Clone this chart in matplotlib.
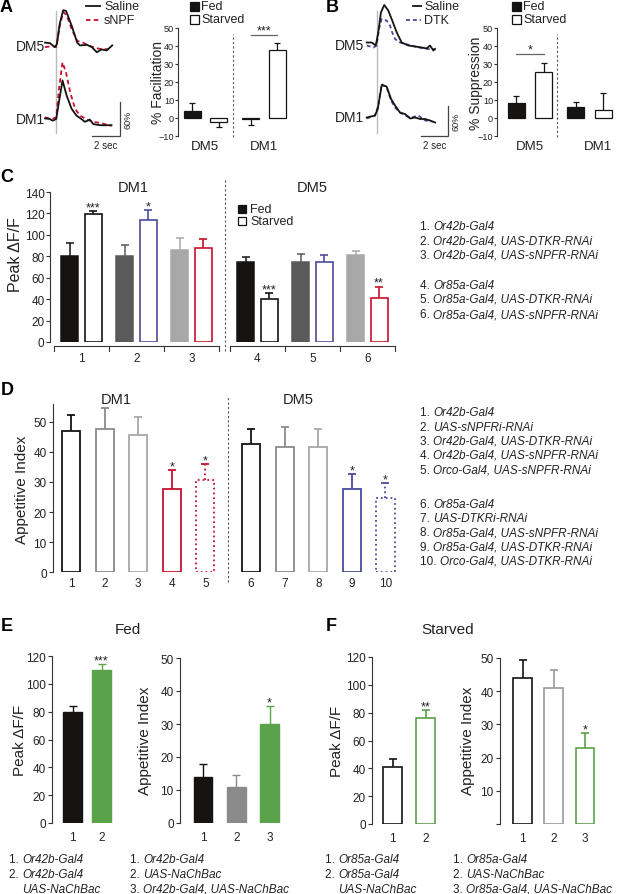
import matplotlib
matplotlib.use('Agg')
import matplotlib.pyplot as plt
from matplotlib.lines import Line2D
from matplotlib.patches import Rectangle

plt.rcParams['font.family'] = ['Liberation Sans', 'DejaVu Sans']

# ======================= DATA =======================
# Panel A traces (time in s, dF/F in %)
A_dm5_saline_t = [0, 0.35, 0.7, 0.85, 1.05, 1.3, 1.5, 1.9, 2.3, 2.5, 3.0, 3.35, 3.7, 4.05, 4.4, 4.8]
A_dm5_saline_v = [6, 5, -2, 3, 39, 63, 62, 36, 6, 1, 2, -2, -11, -6, -8, 1]
A_dm5_snpf_t = [0, 0.55, 0.8, 1.05, 1.3, 1.55, 1.9, 2.3, 2.7, 3.2, 3.7, 4.15, 4.65]
A_dm5_snpf_v = [-2, 0, -2, 35, 60, 54, 30, 9, 6, 0, -4, -6, -5]
A_dm1_saline_t = [0, 0.35, 0.55, 0.8, 0.95, 1.25, 1.55, 1.9, 2.25, 2.6, 2.85, 3.2, 3.45, 3.95, 4.4, 4.75]
A_dm1_saline_v = [1, 0, -3, 0, 23, 68, 41, 18, 6, 0, -5, -1, -9, -11, -11, -11]
A_dm1_snpf_t = [0, 0.5, 0.8, 1.0, 1.25, 1.5, 1.8, 2.15, 2.5, 3.0, 3.45, 3.95, 4.75]
A_dm1_snpf_v = [3, 0, 3, 53, 100, 82, 47, 18, 6, -1, -5, -7, -12]

# Panel B traces
B_dm5_saline_t = [0, 0.38, 0.68, 0.87, 1.07, 1.32, 1.62, 1.92, 2.26, 2.63, 3.13, 3.63, 4.14, 4.51, 4.76, 5.01, 5.14]
B_dm5_saline_v = [5, 5, -1, 25, 65, 80, 69, 49, 25, 5, -1, -3, -5, -7, -1, -11, -8]
B_dm5_dtk_t = [0, 0.5, 0.75, 0.92, 1.13, 1.5, 1.75, 1.92, 2.13, 2.5, 2.88, 3.38, 3.88, 4.39, 4.89, 5.14]
B_dm5_dtk_v = [-1, -5, -1, 32, 52, 49, 39, 25, 12, 5, 2, -1, -5, -7, -9, -8]
B_dm1_saline_t = [0, 0.62, 0.83, 1.13, 1.5, 1.83, 2.13, 2.5, 2.88, 3.26, 3.63, 4.01, 4.39, 4.76, 5.14]
B_dm1_saline_v = [-1, 3, 16, 64, 61, 36, 23, 9, 6, -3, -1, -4, -4, -7, -11]
B_dm1_dtk_t = [0, 0.62, 0.87, 1.13, 1.5, 1.83, 2.13, 2.5, 2.88, 3.38, 3.88, 4.39, 4.89]
B_dm1_dtk_v = [-3, 3, 23, 66, 59, 33, 19, 9, 3, -1, 3, -7, -9]

# Panel A/B bars
A_groups = ['DM5', 'DM1']
A_fed = [3.7, -0.7]
A_fed_err = [4.6, 3.2]
A_starved = [-2.0, 38.0]
A_starved_err = [3.2, 3.7]

B_groups = ['DM5', 'DM1']
B_fed = [8.3, 5.9]
B_fed_err = [4.1, 3.2]
B_starved = [25.7, 4.6]
B_starved_err = [4.9, 9.1]

# Panel C
C_labels = ['1', '2', '3', '4', '5', '6']
C_fed = [80.7, 80.7, 86.0, 74.5, 74.5, 81.4]
C_fed_err = [11.6, 10.0, 11.0, 5.3, 7.8, 4.0]
C_starved = [119.7, 114.0, 88.0, 40.2, 74.5, 40.8]
C_starved_err = [2.5, 8.8, 8.0, 5.3, 6.5, 10.9]
C_sig = ['***', '*', '', '***', '', '**']
C_genotypes = [('1.', 'Or42b-Gal4'), ('2.', 'Or42b-Gal4, UAS-DTKR-RNAi'),
               ('3.', 'Or42b-Gal4, UAS-sNPFR-RNAi'), ('4.', 'Or85a-Gal4'),
               ('5.', 'Or85a-Gal4, UAS-DTKR-RNAi'), ('6.', 'Or85a-Gal4, UAS-sNPFR-RNAi')]

# Panel D
D_labels = ['1', '2', '3', '4', '5', '6', '7', '8', '9', '10']
D_vals = [46.9, 47.8, 45.8, 27.7, 30.6, 42.8, 41.7, 41.7, 27.7, 24.7]
D_err = [5.5, 6.9, 5.8, 6.4, 5.5, 5.0, 6.5, 6.0, 4.9, 5.0]
D_sig = ['', '', '', '*', '*', '', '', '', '*', '*']
D_genotypes = [('1.', 'Or42b-Gal4'), ('2.', 'UAS-sNPFRi-RNAi'), ('3.', 'Or42b-Gal4, UAS-DTKR-RNAi'),
               ('4.', 'Or42b-Gal4, UAS-sNPFR-RNAi'), ('5.', 'Orco-Gal4, UAS-sNPFR-RNAi'),
               ('6.', 'Or85a-Gal4'), ('7.', 'UAS-DTKRi-RNAi'), ('8.', 'Or85a-Gal4, UAS-sNPFR-RNAi'),
               ('9.', 'Or85a-Gal4, UAS-DTKR-RNAi'), ('10.', 'Orco-Gal4, UAS-DTKR-RNAi')]

# Panels E/F
E_peak = [80, 110]
E_peak_err = [3.8, 4.5]
E_peak_sig = ['', '***']
E_app = [14, 11, 30]
E_app_err = [4.0, 3.5, 5.5]
E_app_sig = ['', '', '*']
F_peak = [41, 76]
F_peak_err = [5.5, 6.0]
F_peak_sig = ['', '**']
F_app = [44, 41, 23]
F_app_err = [5.5, 5.5, 4.5]
F_app_sig = ['', '', '*']
E_geno_left = [('1.', 'Or42b-Gal4'), ('2.', 'Or42b-Gal4'), (None, 'UAS-NaChBac')]
E_geno_right = [('1.', 'Or42b-Gal4'), ('2.', 'UAS-NaChBac'), ('3.', 'Or42b-Gal4, UAS-NaChBac')]
F_geno_left = [('1.', 'Or85a-Gal4'), ('2.', 'Or85a-Gal4'), (None, 'UAS-NaChBac')]
F_geno_right = [('1.', 'Or85a-Gal4'), ('2.', 'UAS-NaChBac'), ('3.', 'Or85a-Gal4, UAS-NaChBac')]

# ======================= STYLE =======================
BLACK = '#161412'
DGRAY = '#5a5a5a'
LGRAY = '#a8a8a8'
MGRAY = '#8a8a8a'
BLUE = '#4b4b9c'
RED = '#c8102e'
GREEN = '#5aa34a'
AXC = '#333333'

W, H = 617, 895
fig = plt.figure(figsize=(W / 100, H / 100), dpi=100)
renderer = fig.canvas.get_renderer()


def fx(x):
    return x / W


def fy(y):
    return 1 - y / H


def ftext(x, y, s, **kw):
    kw.setdefault('va', 'center')
    return fig.text(fx(x), fy(y), s, **kw)


def fline(xs, ys, **kw):
    fig.add_artist(Line2D([fx(x) for x in xs], [fy(y) for y in ys],
                          transform=fig.transFigure, **kw))


def fsquare(x, y, w, h, fc, ec):
    fig.add_artist(Rectangle((fx(x), fy(y + h)), w / W, h / H, transform=fig.transFigure,
                             facecolor=fc, edgecolor=ec, linewidth=0.9))


def make_axes(xl, xr, x0px, xunit, ybase_px, ybase_val, yunit_px, ylim):
    def ypx(v):
        return ybase_px - (v - ybase_val) * yunit_px
    top, bot = ypx(ylim[1]), ypx(ylim[0])
    ax = fig.add_axes([fx(xl), fy(bot), (xr - xl) / W, (bot - top) / H])
    ax.set_xlim((xl - x0px) / xunit, (xr - x0px) / xunit)
    ax.set_ylim(*ylim)
    ax.patch.set_visible(False)
    return ax


def style_axes(ax, yticks, fs, ylabels=None, xpad=3, tlen=3, tpad=1.5):
    for s in ['top', 'right', 'bottom']:
        ax.spines[s].set_visible(False)
    ax.spines['left'].set_color(AXC)
    ax.spines['left'].set_linewidth(0.8)
    ax.set_yticks(yticks)
    if ylabels is not None:
        ax.set_yticklabels(ylabels)
    ax.tick_params(axis='y', direction='out', length=tlen, width=0.8, colors=AXC,
                   labelcolor='#222', labelsize=fs, pad=tpad)
    ax.tick_params(axis='x', length=0, labelsize=fs, pad=xpad, labelcolor='#222')


def draw_bar(ax, p, v, e, width, fill, edge, errc, lw=1.1, ls='-', cap=5.5, sig='', sigfs=9):
    ax.bar(p, v, width, color=fill, edgecolor=edge, linewidth=lw, linestyle=ls, zorder=2)
    sign = 1 if v >= 0 else -1
    tip = v + sign * e
    ax.plot([p, p], [v, tip], color=errc, lw=lw, ls=ls, zorder=1, solid_capstyle='butt')
    ax.plot([p], [tip], marker='_', ms=cap, mew=lw, color=errc, zorder=1)
    if sig:
        ax.annotate(sig, (p, tip), xytext=(0, 0.5), textcoords='offset points',
                    ha='center', va='baseline', fontsize=sigfs, color='#222')


def geno(x, y, num, rest, size=8.5):
    if num is None:
        fig.text(fx(x), fy(y), rest, fontsize=size, va='center', style='italic', color='#222')
        return x
    t = ftext(x, y, num + ' ', fontsize=size, color='#222')
    bb = t.get_window_extent(renderer)
    fig.text(bb.x1 / W, fy(y), rest, fontsize=size, va='center', style='italic', color='#222')
    return bb.x1


# ======================= PANEL LETTERS =======================
for letter, (x, y) in {'A': (6, 8), 'B': (332, 8), 'C': (7, 178), 'D': (7, 391),
                       'E': (7, 627), 'F': (331, 627)}.items():
    ftext(x, y, letter, fontsize=13, fontweight='bold', ha='center')


# ======================= TRACES A & B =======================
def trace_panel(tx0, tsc, vsc, base5, base1, xl, xr, stim_px, sb_x, sb_h, dm5, dm1,
                tcolor, tdash, lbl_x):
    ylim = (-(152 - base5) / vsc, base5 / vsc)
    ax = make_axes(xl, xr, tx0, tsc, base5, 0, vsc, ylim)
    ax.axis('off')
    off = (base1 - base5) / vsc
    t_stim = (stim_px - tx0) / tsc
    ax.plot([t_stim, t_stim], [(base5 - 12) / vsc, (base5 - 134) / vsc], color='#bbbbbb', lw=1.0, zorder=0)
    (t5a, v5a), (t5b, v5b) = dm5
    (t1a, v1a), (t1b, v1b) = dm1
    ax.plot(t5a, v5a, color=BLACK, lw=1.3, zorder=3)
    ax.plot(t5b, v5b, color=tcolor, lw=1.3, dashes=tdash, zorder=2)
    ax.plot(t1a, [v - off for v in v1a], color=BLACK, lw=1.3, zorder=3)
    ax.plot(t1b, [v - off for v in v1b], color=tcolor, lw=1.3, dashes=tdash, zorder=2)
    # scale bar 2 s / 60 %
    tsb = (sb_x - tx0) / tsc
    vbot = (base5 - 137) / vsc
    ax.plot([tsb - 2, tsb, tsb], [vbot, vbot, vbot + 60], color='#444', lw=0.9,
            clip_on=False, solid_joinstyle='miter')
    ftext(sb_x + 8, 137 - sb_h / 2, '60%', fontsize=6.5, rotation=90, ha='center', color='#222')
    ftext(sb_x - 2 * tsc / 2, 146, '2 sec', fontsize=7, ha='center', color='#222')
    ftext(lbl_x, base5, 'DM5', fontsize=10, ha='right', color='#222')
    ftext(lbl_x, base1, 'DM1', fontsize=10, ha='right', color='#222')


trace_panel(45, 14, 0.567, 47, 120, 30, 140, 56, 120, 34,
            ((A_dm5_saline_t, A_dm5_saline_v), (A_dm5_snpf_t, A_dm5_snpf_v)),
            ((A_dm1_saline_t, A_dm1_saline_v), (A_dm1_snpf_t, A_dm1_snpf_v)),
            RED, (2.5, 1.8), 45)
fline([86, 100], [7, 7], color=BLACK, lw=1.3)
fline([86, 100], [21, 21], color=RED, lw=1.3, dashes=(2.5, 1.8))
ftext(104, 7, 'Saline', fontsize=9, color='#222')
ftext(104, 21, 'sNPF', fontsize=9, color='#222')

trace_panel(366.7, 13.3, 0.5, 46, 118, 355, 462, 376.7, 448, 30,
            ((B_dm5_saline_t, B_dm5_saline_v), (B_dm5_dtk_t, B_dm5_dtk_v)),
            ((B_dm1_saline_t, B_dm1_saline_v), (B_dm1_dtk_t, B_dm1_dtk_v)),
            BLUE, (2.2, 1.6), 364)
fline([413, 421], [7, 7], color=BLACK, lw=1.3)
fline([406, 421], [21, 21], color=BLUE, lw=1.3, dashes=(2.2, 1.6))
ftext(424, 7, 'Saline', fontsize=9, color='#222')
ftext(424, 21, 'DTK', fontsize=9, color='#222')


# ======================= BARS A & B =======================
def small_bars(xl, xr, x0, unit, gap, groups, fed, fed_e, stv, stv_e, ylabel, ylab_x,
               sig_pair, sig_y, sig_text, legx, dash_px, lbl_shift):
    ax = make_axes(xl, xr, x0, unit, 119, 0, 1.8, (-10, 50))
    style_axes(ax, [-10, 0, 10, 20, 30, 40, 50], 6.6, tlen=2, tpad=0.8)
    ax.set_xticks([])
    w = 17 / unit
    for g in range(len(groups)):
        pf = g * gap
        ps = g * gap + 1
        draw_bar(ax, pf, fed[g], fed_e[g], w, BLACK, BLACK, BLACK, lw=0.9, cap=4.5)
        draw_bar(ax, ps, stv[g], stv_e[g], w, 'white', BLACK, BLACK, lw=0.9, cap=4.5)
        ax.text(g * gap + 0.5 + lbl_shift[g], -12.3, groups[g], ha='center', va='top',
                fontsize=9.5, color='#222')
    dl = (dash_px - x0) / unit
    ax.plot([dl, dl], [-10.6, 46.7], color='#555', lw=0.8, dashes=(2, 2), clip_on=False)
    g = sig_pair
    ax.plot([g * gap, g * gap + 1], [sig_y, sig_y], color='#666', lw=0.9)
    ax.text(g * gap + 0.5, sig_y + 0.6, sig_text, ha='center', va='baseline', fontsize=9, color='#222')
    ftext(ylab_x, 83, ylabel, fontsize=10, rotation=90, ha='center', color='#222')
    fsquare(legx, 3, 9, 9, BLACK, BLACK)
    fsquare(legx, 16, 9, 9, 'white', BLACK)
    ftext(legx + 11, 7, 'Fed', fontsize=9, color='#222')
    ftext(legx + 11, 20, 'Starved', fontsize=9, color='#222')


small_bars(178, 295, 192, 26.5, 2.22, A_groups, A_fed, A_fed_err, A_starved, A_starved_err,
           '% Facilitation', 158, 1, 46.2, '***', 190, 233, [0, 0])
small_bars(497, 614, 516, 27.5, 2.17, B_groups, B_fed, B_fed_err, B_starved, B_starved_err,
           '% Suppression', 476, 0, 35.6, '*', 512, 557, [0, 0.3])

# ======================= PANEL C =======================
cy = 150 / 140
axC = make_axes(50, 405, 81.5, 55, 343, 0, cy, (0, 140))
style_axes(axC, [0, 20, 40, 60, 80, 100, 120, 140], 8.5, xpad=7, tpad=1.0)
C_pos = [i + (0.2 if i >= 3 else 0) for i in range(len(C_labels))]
fed_cols = [BLACK, DGRAY, LGRAY] * 2
stv_cols = [BLACK, BLUE, RED] * 2
for i, p in enumerate(C_pos):
    draw_bar(axC, p - 0.21, C_fed[i], C_fed_err[i], 0.31, fed_cols[i], fed_cols[i], fed_cols[i],
             lw=1.1, cap=5.5)
    draw_bar(axC, p + 0.21, C_starved[i], C_starved_err[i], 0.31, 'white', stv_cols[i], stv_cols[i],
             lw=1.2, cap=5.5, sig=C_sig[i], sigfs=9)
axC.set_xticks(C_pos)
axC.set_xticklabels(C_labels)
yl = -4 / cy
ytk = -9 / cy
for a, b in [(C_pos[0] - 0.5, C_pos[2] + 0.5), (C_pos[3] - 0.5, C_pos[5] + 0.5)]:
    axC.plot([a, b], [yl, yl], color=AXC, lw=0.8, clip_on=False)
    for k in range(4):
        xx = a + k
        axC.plot([xx, xx], [yl, ytk], color=AXC, lw=0.8, clip_on=False)
axC.plot([2.6, 2.6], [-8.4, 152], color='#555', lw=0.8, dashes=(2, 2), clip_on=False)
ftext(133, 188, 'DM1', fontsize=10.5, ha='center', color='#222')
ftext(312, 188, 'DM5', fontsize=10.5, ha='center', color='#222')
ftext(16, 255, 'Peak ΔF/F', fontsize=11.5, rotation=90, ha='center', color='#222')
fsquare(238, 206, 8, 8, BLACK, BLACK)
fsquare(238, 218, 8, 8, 'white', BLACK)
ftext(250, 210, 'Fed', fontsize=9, color='#222')
ftext(250, 222, 'Starved', fontsize=9, color='#222')
for (num, rest), y in zip(C_genotypes, [227, 242, 256, 286, 300, 315]):
    geno(420, y, num, rest)

# ======================= PANEL D =======================
axD = make_axes(53, 405, 71, 33.6, 573, 0, 3.0, (0, 56))
style_axes(axD, [0, 10, 20, 30, 40, 50], 8.5, xpad=3.5)
D_pos = [i + (0.36 if i >= 5 else 0) for i in range(len(D_labels))]
D_cols = [BLACK, MGRAY, LGRAY, RED, RED, BLACK, MGRAY, LGRAY, BLUE, BLUE]
D_ls = ['-', '-', '-', '-', ':', '-', '-', '-', '-', ':']
for i, p in enumerate(D_pos):
    draw_bar(axD, p, D_vals[i], D_err[i], 0.54, 'white', D_cols[i], D_cols[i], lw=1.3,
             ls=D_ls[i], cap=5.5, sig=D_sig[i], sigfs=9)
axD.set_xticks(D_pos)
axD.set_xticklabels(D_labels)
axD.plot([4.68, 4.68], [-3.3, 58.7], color='#555', lw=0.8, dashes=(2, 2), clip_on=False)
ftext(116, 400, 'DM1', fontsize=10.5, ha='center', color='#222')
ftext(298, 400, 'DM5', fontsize=10.5, ha='center', color='#222')
ftext(22, 490, 'Appetitive Index', fontsize=11, rotation=90, ha='center', color='#222')
for (num, rest), y in zip(D_genotypes, [413, 428, 442, 456, 471, 505, 519, 533, 548, 562]):
    geno(420, y, num, rest)


# ======================= PANELS E & F =======================
def ef_axes(xl, xr, x0, unit, base, ylim, yunit, yticks, ylabels, vals, errs, sigs,
            fills, edges, width, lw):
    ax = make_axes(xl, xr, x0, unit, base, 0, yunit, ylim)
    style_axes(ax, yticks, 8.5, ylabels=ylabels, xpad=6)
    pos = list(range(len(vals)))
    for i, p in enumerate(pos):
        draw_bar(ax, p, vals[i], errs[i], width, fills[i], edges[i], edges[i], lw=lw,
                 cap=5.5, sig=sigs[i], sigfs=9)
    ax.set_xticks(pos)
    ax.set_xticklabels([str(i + 1) for i in pos])
    return ax


ef_axes(52, 125, 72.5, 29, 824, (0, 120), 167 / 120, [0, 20, 40, 60, 80, 100, 120], None,
        E_peak, E_peak_err, E_peak_sig, [BLACK, GREEN], [BLACK, GREEN], 0.66, 1.0)
ef_axes(180, 295, 203, 33.3, 824, (0, 50), 3.3, [0, 10, 20, 30, 40, 50], None,
        E_app, E_app_err, E_app_sig, [BLACK, MGRAY, GREEN], [BLACK, MGRAY, GREEN], 0.57, 1.0)
ef_axes(372, 455, 392.5, 33, 825, (0, 120), 167 / 120, [0, 20, 40, 60, 80, 100, 120], None,
        F_peak, F_peak_err, F_peak_sig, ['white', 'white'], [BLACK, GREEN], 0.58, 1.2)
ef_axes(500, 612, 522.5, 31.25, 825, (0, 50), 3.32, [0, 10, 20, 30, 40, 50],
        ['', '10', '20', '30', '40', '50'],
        F_app, F_app_err, F_app_sig, ['white'] * 3, [BLACK, '#999999', GREEN], 0.6, 1.2)

ftext(128, 630, 'Fed', fontsize=11, ha='center', color='#222')
ftext(448, 630, 'Starved', fontsize=11, ha='center', color='#222')
ftext(20, 740, 'Peak ΔF/F', fontsize=11, rotation=90, ha='center', color='#222')
ftext(145, 741, 'Appetitive Index', fontsize=11, rotation=90, ha='center', color='#222')
ftext(337, 741, 'Peak ΔF/F', fontsize=11, rotation=90, ha='center', color='#222')
ftext(468, 741, 'Appetitive Index', fontsize=11, rotation=90, ha='center', color='#222')


def geno_block(x, lines, ys):
    last = x
    for (num, rest), y in zip(lines, ys):
        if num is None:
            geno(last, y, None, rest)
        else:
            last = geno(x, y, num, rest)


geno_block(9, E_geno_left, [860, 875, 890])
geno_block(130, E_geno_right, [860, 875, 890])
geno_block(325, F_geno_left, [860, 875, 890])
geno_block(453, F_geno_right, [860, 875, 890])

fig.savefig('out.png', dpi=100)
